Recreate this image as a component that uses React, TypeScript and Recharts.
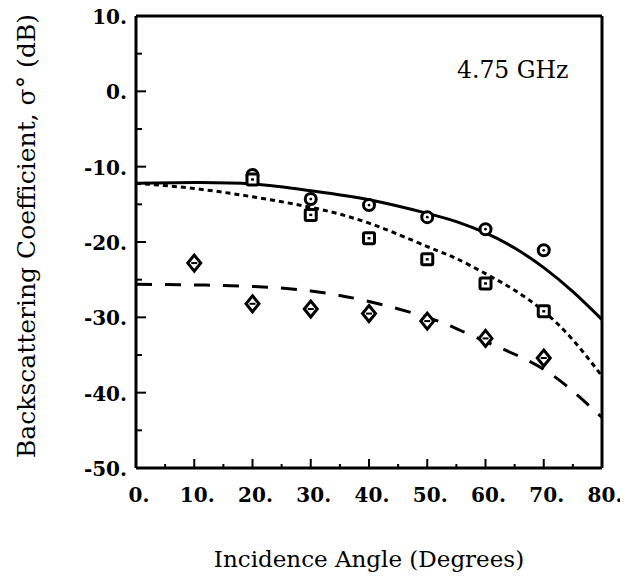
import { ComposedChart, Line, Scatter, XAxis, YAxis } from "recharts";

// fitted model curves (angle in degrees)
const curveAngles = [0, 10, 20, 30, 40, 50, 55, 60, 65, 70, 75, 80];
const solidCurve = [-12.2, -12.1, -12.3, -13.2, -14.4, -16.2, -17.3, -18.8, -20.8, -23.4, -26.6, -30.3];
const dottedCurve = [-12.2, -12.9, -14.0, -15.4, -17.5, -20.6, -22.2, -24.2, -26.4, -29.2, -33.0, -37.8];
const dashedCurve = [-25.6, -25.7, -25.9, -26.5, -27.9, -30.0, -31.5, -33.2, -34.9, -36.9, -39.8, -43.3];

// measured points
const circleAngles = [20, 30, 40, 50, 60, 70];
const circleValues = [-11.1, -14.3, -15.1, -16.7, -18.3, -21.1];
const squareAngles = [20, 30, 40, 50, 60, 70];
const squareValues = [-11.7, -16.4, -19.5, -22.3, -25.5, -29.2];
const diamondAngles = [10, 20, 30, 40, 50, 60, 70];
const diamondValues = [-22.8, -28.2, -28.9, -29.5, -30.5, -32.8, -35.4];

const xTicks = [0, 5, 10, 15, 20, 25, 30, 35, 40, 45, 50, 55, 60, 65, 70, 75, 80];
const yTicks = [-50, -45, -40, -35, -30, -25, -20, -15, -10, -5, 0, 5, 10];

const toPoints = (xs: number[], ys: number[]) => xs.map((x, i) => ({ x, y: ys[i] }));

const FONT = "'DejaVu Serif', serif";

const BottomTick = ({ x, y, payload }: any) => {
  const major = payload.value % 10 === 0;
  return (
    <g>
      <line x1={x} x2={x} y1={y} y2={y - (major ? 9 : 4)} stroke="#000" strokeWidth={2} />
      {major && (
        <text x={x + 3} y={y + 34} textAnchor="middle" fontFamily={FONT} fontWeight="bold" fontSize={20} fill="#000">
          {payload.value}.
        </text>
      )}
    </g>
  );
};

const TopTick = ({ x, y, payload }: any) => {
  const major = payload.value % 10 === 0;
  return <line x1={x} x2={x} y1={y} y2={y + (major ? 7 : 4)} stroke="#000" strokeWidth={2} />;
};

const LeftTick = ({ x, y, payload }: any) => {
  const major = payload.value % 10 === 0;
  return (
    <g>
      <line x1={x} x2={x + (major ? 10 : 6)} y1={y} y2={y} stroke="#000" strokeWidth={2} />
      {major && (
        <text x={x - 9} y={y + 8} textAnchor="end" fontFamily={FONT} fontWeight="bold" fontSize={20} fill="#000">
          {payload.value}.
        </text>
      )}
    </g>
  );
};

const RightTick = ({ x, y, payload }: any) => {
  const major = payload.value % 10 === 0;
  return <line x1={x} x2={x - (major ? 10 : 6)} y1={y} y2={y} stroke="#000" strokeWidth={2} />;
};

const CircleMark = ({ cx, cy }: any) => (
  <g>
    <circle cx={cx} cy={cy} r={5.5} fill="#fff" stroke="#000" strokeWidth={3} />
    <circle cx={cx} cy={cy} r={1.4} fill="#000" />
  </g>
);

const SquareMark = ({ cx, cy }: any) => (
  <g>
    <rect x={cx - 5.5} y={cy - 5.5} width={11} height={11} rx={1.5} fill="#fff" stroke="#000" strokeWidth={3} />
    <rect x={cx - 1.5} y={cy - 1.2} width={3} height={2.4} fill="#000" />
  </g>
);

const DiamondMark = ({ cx, cy }: any) => (
  <g>
    <path d={`M${cx},${cy - 8} L${cx + 6.5},${cy} L${cx},${cy + 8} L${cx - 6.5},${cy} Z`} fill="#fff" stroke="#000" strokeWidth={3} />
    <line x1={cx - 3} x2={cx + 3} y1={cy} y2={cy} stroke="#000" strokeWidth={2} />
  </g>
);

export default function App() {
  return (
    <div style={{ width: 628, height: 581, margin: -8 }}>
      <ComposedChart width={628} height={581} margin={{ top: 0, right: 0, bottom: 0, left: 0 }}>
        <XAxis
          xAxisId="bottom"
          type="number"
          dataKey="x"
          domain={[0, 80]}
          ticks={xTicks}
          interval={0}
          height={113}
          tickSize={0}
          tickMargin={0}
          tickLine={false}
          tick={<BottomTick />}
          axisLine={{ stroke: "#000", strokeWidth: 3 }}
          label={{
            value: "Incidence Angle (Degrees)",
            position: "insideBottom",
            offset: 14,
            style: { fontFamily: FONT, fontSize: 23, fill: "#000" },
          }}
        />
        <XAxis
          xAxisId="top"
          orientation="top"
          type="number"
          domain={[0, 80]}
          ticks={xTicks}
          interval={0}
          height={16}
          tickSize={0}
          tickMargin={0}
          tickLine={false}
          tick={<TopTick />}
          axisLine={{ stroke: "#000", strokeWidth: 3 }}
        />
        <YAxis
          yAxisId="left"
          type="number"
          dataKey="y"
          domain={[-50, 10]}
          ticks={yTicks}
          interval={0}
          width={136}
          tickSize={0}
          tickMargin={0}
          tickLine={false}
          tick={<LeftTick />}
          axisLine={{ stroke: "#000", strokeWidth: 3 }}
          label={{
            content: ({ viewBox }: any) => (
              <text
                x={35}
                y={viewBox.y + viewBox.height / 2 - 6}
                transform={`rotate(-90, 35, ${viewBox.y + viewBox.height / 2 - 6})`}
                textAnchor="middle"
                fontFamily={FONT}
                fontSize={25}
                fill="#000"
              >
                Backscattering Coefficient, σ° (dB)
              </text>
            ),
          }}
        />
        <YAxis
          yAxisId="right"
          orientation="right"
          type="number"
          domain={[-50, 10]}
          ticks={yTicks}
          interval={0}
          width={26}
          tickSize={0}
          tickMargin={0}
          tickLine={false}
          tick={<RightTick />}
          axisLine={{ stroke: "#000", strokeWidth: 3 }}
        />

        <Line
          xAxisId="bottom"
          yAxisId="left"
          data={toPoints(curveAngles, solidCurve)}
          dataKey="y"
          type="natural"
          stroke="#000"
          strokeWidth={3}
          dot={false}
          isAnimationActive={false}
        />
        <Line
          xAxisId="bottom"
          yAxisId="left"
          data={toPoints(curveAngles, dottedCurve)}
          dataKey="y"
          type="natural"
          stroke="#000"
          strokeWidth={3}
          strokeDasharray="5 4"
          dot={false}
          isAnimationActive={false}
        />
        <Line
          xAxisId="bottom"
          yAxisId="left"
          data={toPoints(curveAngles, dashedCurve)}
          dataKey="y"
          type="natural"
          stroke="#000"
          strokeWidth={3}
          strokeDasharray="16 13"
          dot={false}
          isAnimationActive={false}
        />

        <Scatter xAxisId="bottom" yAxisId="left" data={toPoints(circleAngles, circleValues)} dataKey="y" shape={<CircleMark />} isAnimationActive={false} />
        <Scatter xAxisId="bottom" yAxisId="left" data={toPoints(squareAngles, squareValues)} dataKey="y" shape={<SquareMark />} isAnimationActive={false} />
        <Scatter xAxisId="bottom" yAxisId="left" data={toPoints(diamondAngles, diamondValues)} dataKey="y" shape={<DiamondMark />} isAnimationActive={false} />

        <text x={457} y={78} fontFamily={FONT} fontSize={23.5} fill="#000">
          4.75 GHz
        </text>
      </ComposedChart>
    </div>
  );
}
